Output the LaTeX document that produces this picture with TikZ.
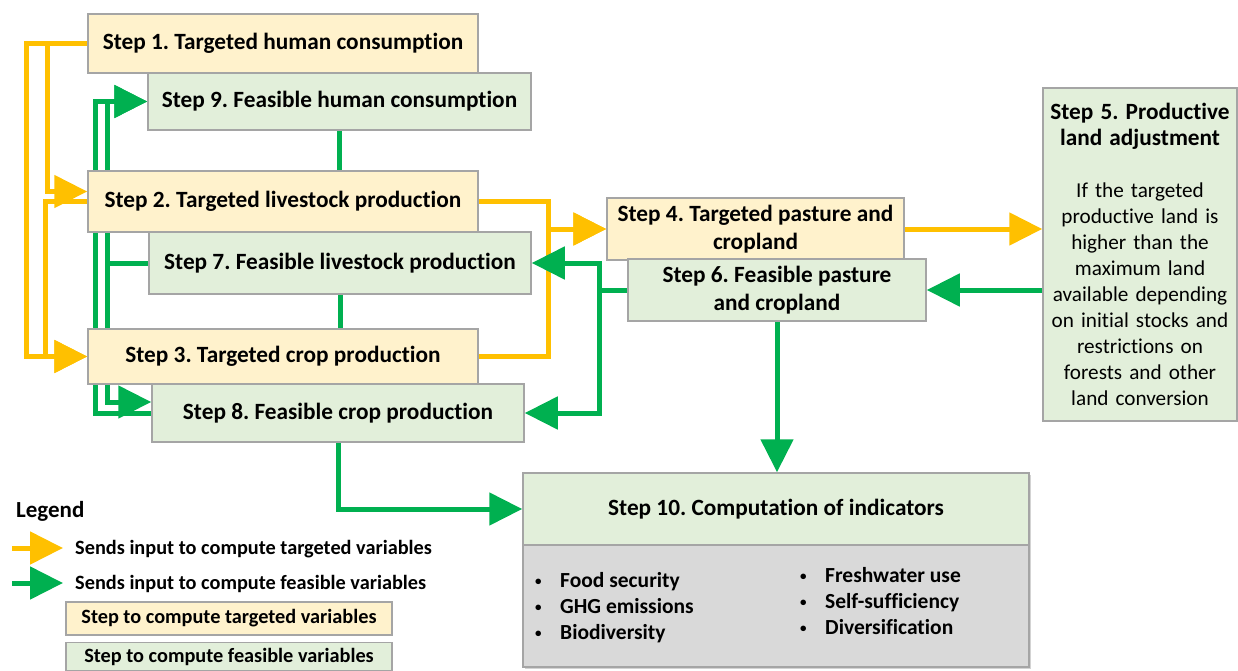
\documentclass[tikz,border=0pt]{standalone}
\usepackage{fontspec}
\setmainfont{Carlito}[Ligatures=NoCommon]
\usepackage{tikz}
\usetikzlibrary{arrows.meta}
\usetikzlibrary{backgrounds}
\usetikzlibrary{shadows}
\definecolor{ylw}{HTML}{FFC000}
\definecolor{grn}{HTML}{00B050}
\definecolor{tgtfill}{HTML}{FFF2CC}
\definecolor{fsbfill}{HTML}{E2EFDA}
\definecolor{indfill}{HTML}{D9D9D9}
\definecolor{boxline}{HTML}{A5A5A5}
\frenchspacing
\newcommand{\stepfont}{\fontsize{23.3}{28}\selectfont\bfseries}
\newcommand{\bodyfont}{\fontsize{21.2}{26}\selectfont}
\newcommand{\itemfont}{\fontsize{21.5}{26}\selectfont\bfseries}
\newcommand{\legendfont}{\fontsize{20.3}{24}\selectfont\bfseries}
\newcommand{\bulletbox}{\makebox[25pt][l]{\raisebox{1.5pt}{\fontsize{13}{13}\selectfont\textbullet}}}

\begin{document}
\begin{tikzpicture}[x=1pt,y=-1pt,
  box/.style={draw=boxline, line width=1.5pt, rectangle, inner sep=0pt, align=center, font=\stepfont},
  tgt/.style={box, fill=tgtfill},
  fsb/.style={box, fill=fsbfill},
  indshadow/.style={drop shadow={shadow xshift=2pt, shadow yshift=-2pt, opacity=0.35}},
  ylwarrow/.style={draw=ylw, line width=5pt, -{Triangle[length=33pt,width=32pt]}},
  grnarrow/.style={draw=grn, line width=5pt, -{Triangle[length=33pt,width=32pt]}},
  grnline/.style={draw=grn, line width=5pt}]
\useasboundingbox (0,0) rectangle (1238,671);

\node[tgt, minimum width=390pt, minimum height=59pt] (s1) at (283,43.5) {Step 1. Targeted human consumption};
\node[fsb, minimum width=383pt, minimum height=57pt] (s9) at (339.5,101.5) {Step 9. Feasible human consumption};
\node[tgt, minimum width=390pt, minimum height=61pt] (s2) at (283,201.5) {Step 2. Targeted livestock production};
\node[fsb, minimum width=382pt, minimum height=62pt] (s7) at (340,263) {Step 7. Feasible livestock production};
\node[tgt, minimum width=390pt, minimum height=55pt] (s3) at (283,356.5) {Step 3. Targeted crop production};
\node[fsb, minimum width=372pt, minimum height=58pt] (s8) at (338,413) {Step 8. Feasible crop production};
\node[tgt, minimum width=297pt, minimum height=62pt] (s4) at (755.5,229) {Step 4. Targeted pasture and\\ cropland};
\node[fsb, minimum width=298pt, minimum height=62pt] (s6) at (777,290) {Step 6. Feasible pasture\\ and cropland};
\node[fsb, minimum width=194pt, minimum height=333pt, text width=192pt, font=\bodyfont] (s5) at (1140,254.5)
  {{\stepfont Step 5. Productive\\ land adjustment}\\[26pt] If the targeted\\ productive land is\\ higher than the\\ maximum land\\ available depending\\ on initial stocks and\\ restrictions on\\ forests and other\\ land conversion};
\node[fsb, indshadow, minimum width=506pt, minimum height=72pt] (s10) at (776,509) {Step 10. Computation of indicators};
\node[box, indshadow, fill=indfill, minimum width=506pt, minimum height=122pt] (s10b) at (776,606) {};
\node[anchor=north west, align=left, inner sep=0pt, font=\itemfont] (ind1) at (535,572) {\bulletbox Food security\\ \bulletbox GHG emissions\\ \bulletbox Biodiversity};
\node[anchor=north west, align=left, inner sep=0pt, font=\itemfont] (ind2) at (800,567) {\bulletbox Freshwater use\\ \bulletbox Self-sufficiency\\ \bulletbox Diversification};

\node[anchor=west, inner sep=0pt, font=\fontsize{23}{26}\selectfont\bfseries] (leg) at (16,511) {Legend};
\coordinate (ya) at (12,548);
\coordinate (yb) at (63,548);
\coordinate (ga) at (12,583);
\coordinate (gb) at (63,583);
\node[anchor=west, inner sep=0pt, font=\legendfont] (lt1) at (75,549) {Sends input to compute targeted variables};
\node[anchor=west, inner sep=0pt, font=\legendfont] (lt2) at (75,584) {Sends input to compute feasible variables};
\node[tgt, minimum width=326pt, minimum height=33pt, font=\legendfont] (lb1) at (229,618.5) {Step to compute targeted variables};
\node[fsb, minimum width=326pt, minimum height=28pt, font=\legendfont] (lb2) at (229,656.5) {Step to compute feasible variables};
\draw[ylwarrow] (ya) -- (yb);
\draw[grnarrow] (ga) -- (gb);

\begin{scope}[on background layer]
\draw[ylwarrow] (s1.west) -- ++(-40,0) |- ([yshift=10pt]s2.west);
\draw[ylwarrow] (s1.west) -- ++(-61,0) |- (s3.west);
\draw[ylwarrow] (s2.west) -- ++(-42,0) |- (s3.west);
\draw[ylwarrow] (s2.east) -- ++(70,0) |- (s4.west);
\draw[ylwarrow] (s3.east) -- ++(70,0) |- (s4.west);
\draw[ylwarrow] (s4.east) -- (s4.east -| s5.west);
\draw[grnarrow] (s6.east -| s5.west) -- (s6.east);
\draw[grnarrow] (s6.west) -- ++(-28,0) |- (s7.east);
\draw[grnarrow] (s6.west) -- ++(-28,0) |- (s8.east);
\draw[grnarrow] (s6.south) -- (s6.south |- s10.north);
\draw[grnarrow] (s8.south) |- (s10.west);
\draw[grnarrow] (s8.west) -- ++(-56,0) |- (s9.west);
\draw[grnarrow] (s7.west) -- ++(-41,0) |- (s9.west);
\draw[grnarrow] (s7.west) -- ++(-41,0) |- ([yshift=11pt]s8.west);
\draw[grnline] (s9.south) -- (s9.south |- s2.north);
\draw[grnline] (s7.south) -- (s7.south |- s3.north);
\end{scope}
\end{tikzpicture}
\end{document}
